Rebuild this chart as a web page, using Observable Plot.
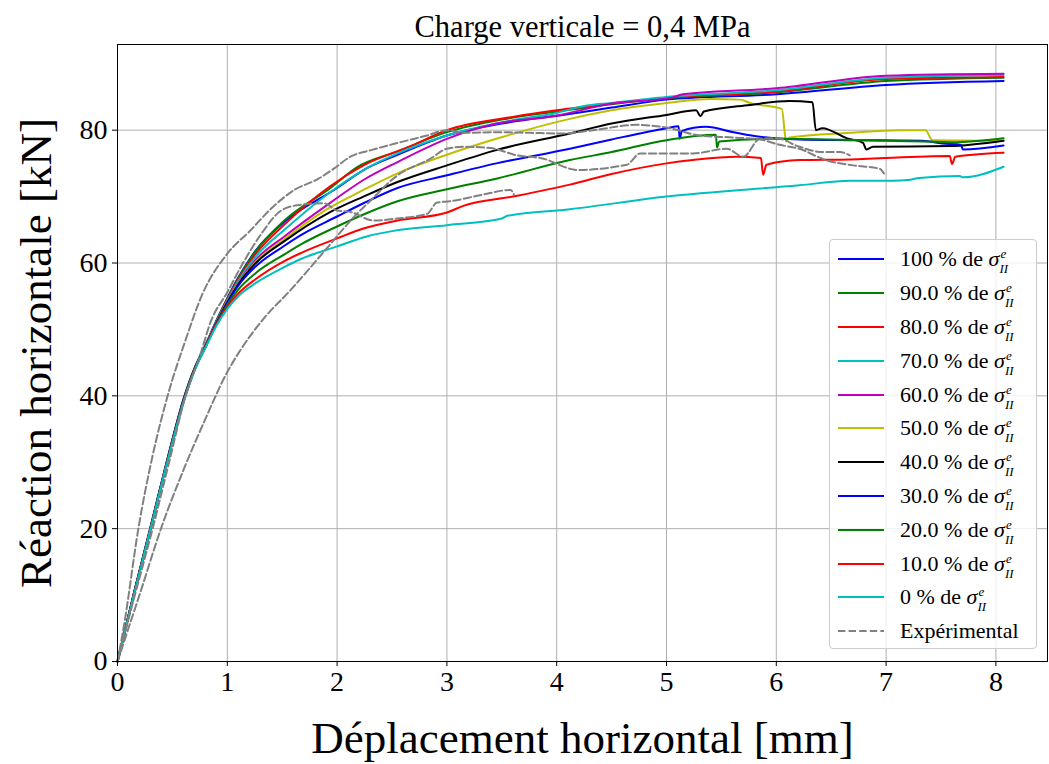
<!DOCTYPE html>
<html><head><meta charset="utf-8">
<script src="https://cdn.jsdelivr.net/npm/d3@7"></script>
<script src="https://cdn.jsdelivr.net/npm/@observablehq/plot@0.6"></script>
<style>
html,body{margin:0;padding:0;background:#fff;overflow:hidden;}
#wrap{position:relative;width:1049px;height:764px;}
#legend{position:absolute;left:829px;top:239px;width:206px;height:408px;border:1px solid #cccccc;border-radius:4px;background:rgba(255,255,255,0.8);font-family:"Liberation Serif",serif;font-size:22px;color:#000;box-sizing:content-box;}
.row{position:absolute;left:0;height:34px;width:206px;}
.row svg{position:absolute;left:7px;top:15px;}
.row .lab{position:absolute;left:70px;top:0;height:34px;line-height:34px;white-space:nowrap;}
.ss{display:inline-block;position:relative;width:17px;height:1px;font-style:italic;font-size:13px;line-height:13px;}
.ss .sup{position:absolute;left:1px;top:-18px;}
.ss .sub{position:absolute;left:0px;top:-3px;}
</style></head><body><div id="wrap"></div>
<script>
const title = "Charge verticale = 0,4 MPa";
const xLabel = "Déplacement horizontal [mm]";
const yLabel = "Réaction horizontale [kN]";
const xTicks = [0, 1, 2, 3, 4, 5, 6, 7, 8];
const yTicks = [0, 20, 40, 60, 80];
const pctLabels = ["100", "90.0", "80.0", "70.0", "60.0", "50.0", "40.0", "30.0", "20.0", "10.0", "0"];
const simColors = ["#0000ff", "#008000", "#ff0000", "#00bfbf", "#bf00bf", "#bfbf00", "#000000", "#0000ff", "#008000", "#ff0000", "#00bfbf"];
const expLabel = "Expérimental";

const sim100 = [[0,0],[0.15,10.3],[0.3,20.2],[0.45,30.2],[0.61,40],[0.7,44.1],[0.8,47.6],[0.9,51.3],[1.0,54.7],[1.1,57.8],[1.26,61.9],[1.52,66.2],[2.0,71.3],[2.24,74.0],[2.55,76.3],[3.0,79.2],[3.5,81.0],[4.1,82.4],[4.5,83.4],[5.0,84.6],[6.0,85.4],[7.0,86.8],[8.07,87.4]];
const sim90 = [[0,0],[0.15,10.3],[0.3,20.1],[0.45,30.1],[0.61,39.9],[0.7,44.1],[0.8,47.6],[0.9,51.2],[1.0,54.6],[1.1,57.7],[1.26,61.8],[1.52,66.4],[1.94,71.3],[2.18,74.4],[2.55,76.8],[3.0,79.7],[3.5,81.6],[4.0,82.8],[4.5,83.9],[5.0,84.8],[6.0,85.7],[7.0,87.4],[8.07,87.9]];
const sim80 = [[0,0],[0.15,10.3],[0.3,20.1],[0.45,30.1],[0.61,39.9],[0.7,44.0],[0.8,47.5],[0.9,51.1],[1.0,54.5],[1.1,57.5],[1.26,61.4],[1.52,65.8],[1.94,71.6],[2.24,74.7],[2.67,77.6],[3.0,80.0],[3.6,82.0],[4.0,83.0],[4.5,84.0],[5.0,84.9],[6.0,85.8],[7.0,87.7],[8.07,88.0]];
const sim70 = [[0,0],[0.15,10.2],[0.3,20],[0.45,30],[0.61,39.8],[0.7,44.0],[0.8,47.5],[0.9,51.1],[1.0,54.4],[1.1,57.3],[1.26,61.0],[1.52,65.0],[1.94,70.7],[2.24,74.0],[2.55,76.5],[3.0,79.2],[3.6,81.5],[4.0,82.6],[4.24,83.6],[4.5,84.1],[5.0,85.0],[6.0,86.0],[7.0,87.9],[8.07,88.3]];
const sim60 = [[0,0],[0.15,10.2],[0.3,20],[0.45,30],[0.61,39.8],[0.7,44.0],[0.8,47.5],[0.9,51.0],[1.0,54.3],[1.1,57.0],[1.26,60.5],[1.52,64.0],[1.94,69.1],[2.24,72.5],[2.55,75.2],[3.0,78.7],[3.45,81.0],[3.97,82.1],[4.5,84.0],[5.05,84.9],[5.15,85.4],[6.0,86.3],[7.0,88.2],[8.07,88.5]];
const sim50 = [[0,0],[0.15,10.2],[0.3,20],[0.45,30],[0.61,39.8],[0.7,44.0],[0.8,47.4],[0.9,51.0],[1.0,54.2],[1.1,56.9],[1.26,60.2],[1.52,63.6],[1.94,68.4],[2.24,71.0],[2.55,73.5],[3.0,76.3],[3.45,78.7],[4.12,81.7],[4.5,83.0],[5.0,84.1],[5.4,84.7],[5.67,84.6],[5.76,84.1],[6.05,83.2],[6.09,78.3],[6.12,78.9],[6.67,79.6],[7.12,80.0],[7.36,80.0],[7.42,78.5],[8.07,78.4]];
const sim40 = [[0,0],[0.15,10.2],[0.3,20],[0.45,30],[0.61,39.8],[0.7,44.0],[0.8,47.4],[0.9,50.9],[1.0,54.1],[1.1,56.8],[1.26,60.0],[1.52,63.3],[1.94,67.7],[2.24,70.0],[2.55,72.2],[3.0,74.7],[3.45,77.0],[4.12,79.5],[4.5,81.0],[5.0,82.3],[5.27,83.0],[5.31,82.1],[5.34,82.8],[5.76,83.8],[6.12,84.4],[6.33,84.2],[6.36,80.0],[6.42,80.3],[6.64,78.8],[6.79,78.1],[6.82,77.1],[6.88,77.5],[7.58,77.6],[8.07,78.4]];
const sim30 = [[0,0],[0.15,10.2],[0.3,20],[0.45,30],[0.61,39.7],[0.7,43.9],[0.8,47.4],[0.9,50.9],[1.0,54.0],[1.1,56.6],[1.26,59.5],[1.52,62.6],[1.67,64.2],[2.0,67.0],[2.24,69.0],[2.55,71.3],[3.0,73.2],[3.45,75.0],[4.12,77.2],[4.5,78.6],[5.0,80.3],[5.11,80.6],[5.12,78.7],[5.14,79.9],[5.36,80.5],[5.61,79.7],[5.85,79.0],[6.21,78.6],[6.67,78.5],[7.33,78.4],[7.51,78.0],[7.68,77.8],[7.70,77.1],[8.07,77.7]];
const sim20 = [[0,0],[0.15,10.1],[0.3,19.9],[0.45,29.9],[0.61,39.6],[0.7,43.9],[0.8,47.3],[0.9,50.8],[1.0,53.7],[1.1,56.0],[1.26,58.5],[1.52,61.3],[1.67,62.8],[2.0,65.5],[2.24,67.3],[2.55,69.3],[3.0,71.1],[3.45,72.7],[4.12,75.5],[4.5,76.7],[5.0,78.5],[5.45,79.3],[5.46,77.4],[5.48,78.3],[6.0,78.7],[7.0,78.4],[7.6,78.2],[8.07,78.8]];
const sim10 = [[0,0],[0.15,10.1],[0.3,19.9],[0.45,29.8],[0.61,39.5],[0.7,43.8],[0.8,47.3],[0.9,50.7],[1.0,53.4],[1.1,55.4],[1.26,57.6],[1.52,60.3],[1.67,61.5],[2.0,63.7],[2.24,65.2],[2.55,66.4],[3.0,67.6],[3.15,68.6],[3.6,70.0],[4.12,71.8],[4.5,73.4],[5.0,75.0],[5.24,75.5],[5.64,76.0],[5.86,75.8],[5.88,73.3],[5.91,74.8],[6.21,75.5],[6.67,75.6],[7.58,76.1],[7.60,74.9],[7.63,76.0],[8.07,76.6]];
const sim0 = [[0,0],[0.15,10.1],[0.3,19.9],[0.45,29.8],[0.61,39.5],[0.7,43.7],[0.8,47.2],[0.9,50.5],[1.0,53.1],[1.1,55.0],[1.26,57.0],[1.52,59.4],[1.67,60.6],[2.0,62.5],[2.27,64.0],[2.5,64.8],[3.0,65.7],[3.5,66.7],[3.55,67.1],[4.12,68.1],[5.0,70.0],[6.21,71.7],[6.67,72.4],[7.06,72.4],[7.2,72.5],[7.3,72.8],[7.67,73.1],[7.7,72.9],[8.07,74.5]];

const expA = [[0,0],[0.06,5.5],[0.19,20],[0.32,31],[0.46,40.2],[0.62,48.4],[0.77,55.2],[1.0,61.4],[1.21,64.9],[1.40,68.2],[1.61,71.0],[1.82,72.6],[1.97,74.2],[2.12,76.0],[2.31,77.0],[2.58,78.2],[2.82,79.2],[3.0,80.0],[3.15,79.6],[3.45,79.7],[3.76,79.6],[4.06,79.5],[4.33,80.0],[4.73,80.8],[5.03,80.3],[5.30,79.2],[5.6,78.9],[5.85,78.6],[6.03,77.8],[6.21,77.2],[6.45,75.5],[6.70,74.7],[6.94,74.2],[6.98,73.5]];
const expB = [[0,0],[0.15,9.5],[0.32,20],[0.47,30],[0.62,40],[0.75,46],[0.85,51.2],[1.0,55.6],[1.15,60.2],[1.31,64.4],[1.49,67.9],[1.64,68.7],[1.88,69.0],[2.0,67.9],[2.12,67.7],[2.33,66.4],[2.55,66.7],[2.82,67.4],[2.91,69.1],[3.03,69.3],[3.30,70.2],[3.58,71.0],[3.61,70.3]];
const expC = [[0,0],[0.1,5],[0.2,10],[0.4,20.2],[0.6,28.8],[0.8,36.5],[1.0,43.6],[1.12,46.9],[1.33,51.6],[1.58,56.0],[1.75,59.2],[1.88,61.7],[2.06,65.2],[2.18,67.4],[2.28,69.0],[2.55,73.2],[2.85,75.7],[3.0,77.2],[3.15,77.5],[3.4,77.3],[3.64,76.2],[3.88,75.7],[4.12,74.2],[4.18,74.0],[4.64,74.8],[4.76,76.5],[5.24,76.5],[5.55,77.2],[5.70,76.0],[5.85,78.7],[6.0,78.8],[6.21,77.5],[6.42,76.7],[6.58,76.7],[6.67,76.2]];

const sims = [sim100, sim90, sim80, sim70, sim60, sim50, sim40, sim30, sim20, sim10, sim0];
const exps = [expA, expB, expC];

const serif = "Liberation Serif, Times New Roman, serif";
const dash = "7.4,3.2";

const marks = [
  Plot.gridX(xTicks, {stroke: "#b0b0b0", strokeOpacity: 1, strokeWidth: 1}),
  Plot.gridY(yTicks, {stroke: "#b0b0b0", strokeOpacity: 1, strokeWidth: 1}),
  ...sims.map((s, i) => Plot.line(s, {x: d => d[0], y: d => d[1], stroke: simColors[i], strokeWidth: 2, curve: "monotone-x"})),
  ...exps.map(s => Plot.line(s, {x: d => d[0], y: d => d[1], stroke: "#808080", strokeWidth: 2, strokeDasharray: dash, curve: "monotone-x"})),
  Plot.frame({stroke: "#000", strokeWidth: 1}),
  Plot.axisX(xTicks, {tickSize: 5, tickPadding: 5, label: null, fontSize: 28, fontFamily: serif, stroke: "#000"}),
  Plot.axisY(yTicks, {tickSize: 5, tickPadding: 5, label: null, fontSize: 28, fontFamily: serif, stroke: "#000"}),
  Plot.text([title], {text: d => d, frameAnchor: "top", dy: -8, lineAnchor: "bottom", fontSize: 30.5, fontFamily: serif, fill: "#000"}),
  Plot.text([xLabel], {text: d => d, frameAnchor: "bottom", dy: 91, lineAnchor: "bottom", fontSize: 45, fontFamily: serif, fill: "#000"}),
  Plot.text([yLabel], {text: d => d, frameAnchor: "left", textAnchor: "middle", dx: -67, rotate: -90, lineAnchor: "bottom", fontSize: 45, fontFamily: serif, fill: "#000"})
];

const chart = Plot.plot({
  width: 1049,
  height: 764,
  marginLeft: 117,
  marginRight: 2,
  marginTop: 44,
  marginBottom: 103,
  x: {domain: [0, 8.47]},
  y: {domain: [0, 92.9]},
  style: {fontFamily: serif, fontSize: "28px", background: "#fff", color: "#000", overflow: "visible"},
  marks
});
const wrap = document.getElementById("wrap");
wrap.appendChild(chart);

// legend
const legend = document.createElement("div");
legend.id = "legend";
const rowH = 33.8, firstC = 19.3;
const entries = pctLabels.map((p, i) => ({html: `${p} % de <i>σ</i><span class="ss"><span class="sup">e</span><span class="sub">II</span></span>`, color: simColors[i], dash: null}));
entries.push({html: expLabel, color: "#808080", dash: dash});
entries.forEach((e, i) => {
  const row = document.createElement("div");
  row.className = "row";
  row.style.top = (firstC + rowH * i - 17) + "px";
  row.innerHTML = `<svg width="48" height="4"><line x1="1" y1="2" x2="47" y2="2" stroke="${e.color}" stroke-width="2" ${e.dash ? `stroke-dasharray="${e.dash}"` : ""}/></svg><span class="lab">${e.html}</span>`;
  legend.appendChild(row);
});
wrap.appendChild(legend);
</script></body></html>
